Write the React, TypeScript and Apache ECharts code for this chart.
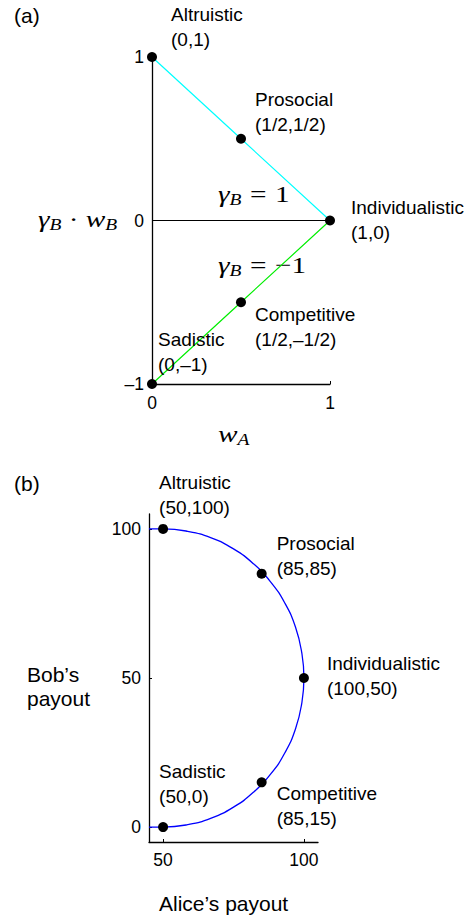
import React, { useEffect, useRef } from 'react';
import * as echarts from 'echarts';

// ---------- data ----------
const styleNames = ['Altruistic', 'Prosocial', 'Individualistic', 'Competitive', 'Sadistic'];

// panel (a)
const aX = [0, 0.5, 1, 0.5, 0];
const aY = [1, 0.5, 0, -0.5, -1];
const aCoordText = ['(0,1)', '(1/2,1/2)', '(1,0)', '(1/2,–1/2)', '(0,–1)'];
const aZeroLineX = [0, 1];
const aZeroLineY = [0, 0];
const aXTicks = [0, 1];
const aYTicks = [-1, 0, 1];

// panel (b)
const bX = [50, 85, 100, 85, 50];
const bY = [100, 85, 50, 15, 0];
const bCurveX = [45, 50, 58.7, 67.1, 75, 82.1, 88.3, 93.3, 97, 99.2, 100, 99.2, 97, 93.3, 88.3, 82.1, 75, 67.1, 58.7, 50, 45];
const bCurveY = [100, 100, 99.2, 97, 93.3, 88.3, 82.1, 75, 67.1, 58.7, 50, 41.3, 32.9, 25, 17.9, 11.7, 6.7, 3, 0.8, 0, 0];
const bXTicks = [50, 100];
const bYTicks = [0, 50, 100];

// ---------- layout / style ----------
const SANS = '"Liberation Sans", Arial, Helvetica, sans-serif';
const SERIF = '"Liberation Serif", "Times New Roman", serif';
const MATH_COLOR = '#5c5c5c';
const aLabelOffsets = [[14, -30], [9, -27], [16, -1], [9, 25], [1, -32]];
const bLabelOffsets = [[-9, -33.5], [10, -18], [18, -2.5], [10, 24], [-9, -43]];

const fmtTick = (v: number) => (v < 0 ? '–' + Math.abs(v) : String(v));

const mathRich = {
  i: { fontFamily: SERIF, fontStyle: 'italic', fontSize: 24, lineHeight: 28, color: MATH_COLOR },
  s: { fontFamily: SERIF, fontStyle: 'italic', fontSize: 16, lineHeight: 28, color: MATH_COLOR, verticalAlign: 'bottom' },
  r: { fontFamily: SERIF, fontSize: 24, lineHeight: 28, color: MATH_COLOR },
  e: { fontFamily: SERIF, fontSize: 24, lineHeight: 28, color: MATH_COLOR, padding: [0, 7, 0, 7] },
  d: { fontFamily: SERIF, fontSize: 24, lineHeight: 28, color: MATH_COLOR, padding: [0, 6, 0, 6] },
};

function axisCommon(ticks: number[], margin: number) {
  return {
    type: 'value',
    axisLine: { show: true, onZero: false, lineStyle: { color: '#000', width: 1.3 } },
    axisTick: { show: true, inside: true, length: 3, lineStyle: { color: '#000', width: 1 }, customValues: ticks },
    splitLine: { show: false },
    axisLabel: { color: '#000', fontSize: 17.5, fontFamily: SANS, formatter: fmtTick, customValues: ticks, margin },
  };
}

function textEl(x: number, y: number, text: string, extra: any = {}) {
  return {
    type: 'text',
    x,
    y,
    style: {
      text,
      fontFamily: SANS,
      fontSize: 21,
      fill: '#000',
      align: 'left',
      verticalAlign: 'middle',
      textAlign: 'left',
      textVerticalAlign: 'middle',
      ...extra,
    },
  };
}

function mathEl(x: number, y: number, text: string) {
  return {
    type: 'text',
    x,
    y,
    scaleX: 1.22,
    style: {
      text,
      rich: mathRich,
      align: 'left',
      verticalAlign: 'middle',
      textAlign: 'left',
      textVerticalAlign: 'middle',
    },
  };
}

export default function App() {
  const ref = useRef<HTMLDivElement>(null);

  useEffect(() => {
    document.body.style.margin = '0';
    if (!ref.current) return;
    const chart = echarts.init(ref.current, undefined, { renderer: 'svg' });

    const labelBase = {
      show: true,
      position: 'right',
      distance: 0,
      color: '#000',
      opacity: 1,
      fontFamily: SANS,
      fontSize: 19,
      lineHeight: 25,
    };

    const aPoints = aX.map((x, i) => ({
      value: [x, aY[i]],
      label: { ...labelBase, offset: aLabelOffsets[i], formatter: styleNames[i] + '\n' + aCoordText[i] },
    }));
    const bPoints = bX.map((x, i) => ({
      value: [x, bY[i]],
      label: { ...labelBase, offset: bLabelOffsets[i], formatter: styleNames[i] + '\n(' + x + ',' + bY[i] + ')' },
    }));

    const option = {
      animation: false,
      grid: [
        { left: 152, width: 178, top: 57, height: 327 },
        { left: 149, width: 169, top: 514, height: 328 },
      ],
      xAxis: [
        { ...axisCommon(aXTicks, 10), gridIndex: 0, min: 0, max: 1, interval: 1 },
        { ...axisCommon(bXTicks, 9), gridIndex: 1, min: 45, max: 105 },
      ],
      yAxis: [
        { ...axisCommon(aYTicks, 8), gridIndex: 0, min: -1, max: 1, interval: 1 },
        { ...axisCommon(bYTicks, 8), gridIndex: 1, min: -5, max: 105 },
      ],
      series: [
        {
          type: 'line',
          xAxisIndex: 0,
          yAxisIndex: 0,
          data: aZeroLineX.map((x, i) => [x, aZeroLineY[i]]),
          showSymbol: false,
          lineStyle: { color: '#000', width: 1.2 },
          z: 2,
        },
        {
          type: 'line',
          xAxisIndex: 0,
          yAxisIndex: 0,
          data: [0, 1, 2].map((i) => [aX[i], aY[i]]),
          showSymbol: false,
          lineStyle: { color: '#00ffff', width: 1.2 },
          z: 2,
        },
        {
          type: 'line',
          xAxisIndex: 0,
          yAxisIndex: 0,
          data: [2, 3, 4].map((i) => [aX[i], aY[i]]),
          showSymbol: false,
          lineStyle: { color: '#00ee00', width: 1.2 },
          z: 2,
        },
        {
          type: 'scatter',
          xAxisIndex: 0,
          yAxisIndex: 0,
          data: aPoints,
          symbolSize: 10,
          itemStyle: { color: '#000', opacity: 1 },
          z: 3,
        },
        {
          type: 'line',
          xAxisIndex: 1,
          yAxisIndex: 1,
          data: bCurveX.map((x, i) => [x, bCurveY[i]]),
          showSymbol: false,
          smooth: true,
          lineStyle: { color: '#0000ff', width: 1.3 },
          z: 2,
        },
        {
          type: 'scatter',
          xAxisIndex: 1,
          yAxisIndex: 1,
          data: bPoints,
          symbolSize: 10,
          itemStyle: { color: '#000', opacity: 1 },
          z: 3,
        },
      ],
      graphic: [
        textEl(14, 15, '(a)'),
        textEl(14, 483, '(b)'),
        textEl(27, 686, 'Bob’s\npayout', { lineHeight: 24 }),
        textEl(159, 903, 'Alice’s payout'),
        mathEl(38, 219, '{i|γ}{s|B}{d|·}{i|w}{s|B}'),
        mathEl(218, 194, '{i|γ}{s|B}{e|=}{r|1}'),
        mathEl(218, 265, '{i|γ}{s|B}{e|=}{r|−1}'),
        mathEl(218, 434, '{i|w}{s|A}'),
      ],
    };

    chart.setOption(option as any);
    return () => chart.dispose();
  }, []);

  return <div ref={ref} style={{ width: 469, height: 915 }} />;
}
